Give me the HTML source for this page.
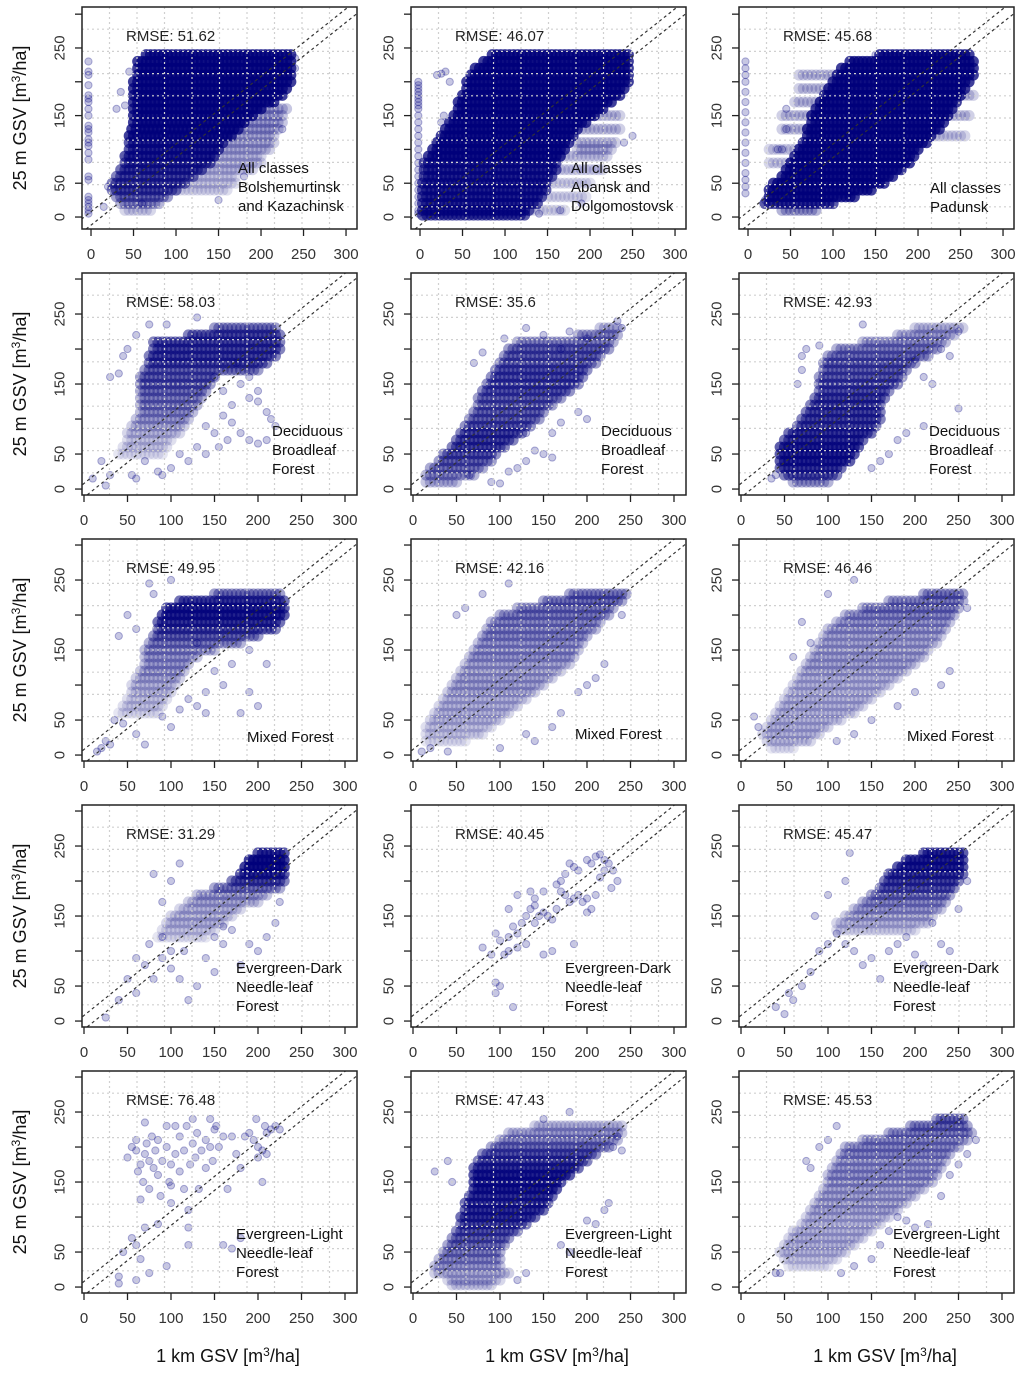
<!DOCTYPE html>
<html><head><meta charset="utf-8"><style>
body{margin:0;background:#fff;}
svg{display:block;font-family:"Liberation Sans",sans-serif;}
</style></head><body>
<svg id="chart" width="1024" height="1378" viewBox="0 0 1024 1378"></svg>
<script>
const colLefts=[82,411,739];
const rowTops=[7,273,539,805,1071];
const xTicks=[0,50,100,150,200,250,300];
const yTicks=[0,50,100,150,200,250,300];
const yTickLabels=["0","50","","150","","250",""];
const rmseValues=["51.62","46.07","45.68","58.03","35.6","42.93","49.95","42.16","46.46","31.29","40.45","45.47","76.48","47.43","45.53"];
const classLabels=[
["All classes","Bolshemurtinsk","and Kazachinsk"],["All classes","Abansk and","Dolgomostovsk"],["All classes","Padunsk"],
["Deciduous","Broadleaf","Forest"],["Deciduous","Broadleaf","Forest"],["Deciduous","Broadleaf","Forest"],
["Mixed Forest"],["Mixed Forest"],["Mixed Forest"],
["Evergreen-Dark","Needle-leaf","Forest"],["Evergreen-Dark","Needle-leaf","Forest"],["Evergreen-Dark","Needle-leaf","Forest"],
["Evergreen-Light","Needle-leaf","Forest"],["Evergreen-Light","Needle-leaf","Forest"],["Evergreen-Light","Needle-leaf","Forest"]];
// density spans: [y, x0, x1, density]
const spans1=[[240,65,235,.9],[230,55,238,.9],[220,55,238,.9],[210,55,235,.9],[200,50,235,.9],[190,50,230,.9],[180,50,225,.9],[170,50,215,.9],[160,50,200,.9],[150,50,190,.9],[140,50,180,.85],[130,48,175,.85],[120,45,165,.85],[110,45,155,.8],[100,45,150,.8],[90,40,145,.8],[80,40,140,.75],[70,35,130,.75],[60,30,120,.7],[50,25,110,.7],[40,25,100,.7],[30,30,90,.6],[20,35,80,.5],[10,40,70,.3],[160,200,230,.4],[150,190,225,.4],[140,180,225,.4],[130,175,220,.4],[120,165,215,.35],[110,155,215,.35],[100,150,210,.35],[90,145,200,.3],[80,140,200,.3],[70,130,190,.3],[60,120,170,.25],[50,110,170,.25],[40,100,160,.25]];
const points1=[[-3,5],[-3,10],[-3,15],[-3,20],[-3,25],[-3,30],[-3,55],[-3,60],[-3,85],[-3,95],[-3,105],[-3,110],[-3,115],[-3,125],[-3,130],[-3,135],[-3,150],[-3,160],[-3,170],[-3,175],[-3,180],[-3,195],[-3,210],[-3,215],[-3,230],[35,185],[40,165],[45,215],[30,160],[60,20],[15,15],[20,45],[150,25],[180,60],[225,130],[240,220],[240,235]];
const spans2=[[240,85,245,.9],[230,75,248,.9],[220,65,248,.9],[210,60,248,.9],[200,55,245,.9],[190,55,240,.9],[180,50,235,.9],[170,45,225,.9],[160,45,215,.9],[150,40,205,.9],[140,35,195,.9],[130,30,185,.85],[120,25,180,.85],[110,20,175,.85],[100,15,170,.85],[90,10,165,.85],[80,5,160,.8],[70,5,160,.8],[60,5,155,.8],[50,3,150,.8],[40,3,150,.8],[30,3,145,.8],[20,3,140,.8],[10,3,130,.8],[3,3,125,.8],[150,190,235,.35],[130,190,235,.35],[110,185,230,.35],[100,185,225,.35],[90,165,220,.3],[70,165,215,.3],[50,150,200,.25],[30,150,195,.25],[10,130,170,.25]];
const points2=[[-2,200],[-2,195],[-2,190],[-2,185],[-2,180],[-2,175],[-2,170],[-2,165],[-2,160],[-2,150],[-2,140],[-2,130],[-2,120],[-2,110],[-2,100],[-2,90],[-2,80],[-2,70],[-2,60],[-2,50],[-2,40],[-2,30],[-2,20],[-2,10],[-2,5],[20,210],[25,212],[30,215],[35,200],[28,150],[25,140],[30,110],[140,5],[165,10],[240,110],[250,120],[190,20]];
const spans3=[[240,155,260,.9],[230,120,265,.9],[220,110,268,.9],[210,105,268,.9],[200,100,262,.9],[190,95,255,.85],[180,90,250,.85],[170,85,245,.85],[160,80,240,.85],[150,75,235,.85],[140,75,230,.85],[130,70,225,.85],[120,70,215,.85],[110,65,210,.85],[100,60,200,.85],[90,55,195,.85],[80,50,190,.85],[70,45,180,.85],[60,40,170,.85],[50,30,160,.85],[40,25,145,.85],[30,25,125,.85],[20,20,100,.8],[10,40,80,.5],[210,60,100,.35],[190,60,95,.35],[170,55,90,.35],[150,40,75,.35],[130,40,70,.35],[100,25,60,.3],[80,25,50,.3],[180,250,265,.35],[150,230,262,.35],[120,215,255,.3]];
const points3=[[-3,230],[-3,220],[-3,210],[-3,200],[-3,185],[-3,170],[-3,155],[-3,140],[-3,125],[-3,110],[-3,95],[-3,80],[-3,65],[-3,55],[-3,45],[-3,35],[45,160],[45,130],[40,100],[35,100],[20,25],[150,240]];
const spans4=[[230,150,220,.6],[220,120,225,.7],[210,80,225,.7],[200,80,225,.7],[190,75,220,.7],[180,75,210,.7],[170,70,200,.6],[160,65,150,.6],[150,65,145,.6],[140,65,140,.55],[130,65,135,.5],[120,65,130,.5],[110,65,125,.45],[100,60,120,.4],[90,55,115,.35],[80,50,110,.3],[70,50,100,.25],[60,45,95,.25],[50,40,90,.2]];
const points4=[[10,15],[20,40],[25,5],[30,20],[30,160],[40,165],[45,190],[50,200],[60,220],[75,235],[95,235],[130,245],[150,160],[160,140],[170,120],[180,150],[190,130],[200,140],[210,110],[215,100],[220,90],[165,70],[180,80],[190,70],[200,65],[210,70],[170,95],[160,105],[150,80],[140,90],[130,60],[120,40],[110,50],[100,30],[90,20],[85,25],[70,40],[60,15],[55,20],[140,50],[155,60],[200,125],[190,160],[175,180]];
const spans5=[[230,215,235,.4],[220,190,235,.5],[210,120,230,.5],[200,110,225,.6],[190,105,215,.6],[180,100,210,.6],[170,95,200,.65],[160,90,195,.65],[150,85,190,.65],[140,80,180,.65],[130,75,170,.6],[120,75,160,.6],[110,70,150,.6],[100,65,145,.6],[90,60,135,.65],[80,55,125,.7],[70,50,115,.7],[60,45,105,.7],[50,35,95,.65],[40,30,90,.6],[30,20,80,.55],[20,15,70,.5],[10,15,50,.4]];
const points5=[[65,20],[90,10],[100,8],[110,25],[120,30],[130,40],[140,55],[150,50],[160,45],[70,180],[80,195],[105,215],[130,230],[150,220],[170,200],[180,225],[200,215],[240,230],[235,240],[200,100],[190,110],[160,80],[170,95],[130,80]];
const spans6=[[230,200,255,.35],[220,180,245,.4],[210,140,235,.45],[200,110,225,.5],[190,100,215,.55],[180,95,200,.6],[170,95,190,.6],[160,90,185,.6],[150,90,180,.65],[140,90,170,.65],[130,85,165,.7],[120,80,160,.7],[110,75,160,.7],[100,70,160,.7],[90,65,155,.7],[80,55,150,.75],[70,50,140,.75],[60,45,135,.8],[50,45,130,.8],[40,45,125,.8],[30,45,115,.75],[20,50,110,.7],[10,60,100,.5]];
const points6=[[35,15],[40,20],[65,150],[70,170],[70,190],[75,200],[90,205],[140,235],[250,115],[210,90],[190,80],[180,70],[160,40],[170,50],[150,30],[200,185],[230,200],[250,225],[240,190],[210,160],[220,150]];
const spans7=[[230,150,225,.6],[220,110,230,.75],[210,95,230,.8],[200,90,230,.8],[190,85,225,.75],[180,85,220,.7],[170,80,200,.6],[160,75,180,.5],[150,70,150,.45],[140,70,130,.4],[130,70,120,.4],[120,65,115,.4],[110,60,110,.35],[100,55,105,.3],[90,55,100,.3],[80,50,95,.25],[70,45,90,.25],[60,40,85,.2]];
const points7=[[15,5],[20,10],[25,20],[30,15],[35,50],[45,45],[60,30],[70,15],[90,55],[100,40],[110,65],[120,80],[130,70],[140,90],[150,120],[160,100],[170,130],[180,60],[190,90],[200,70],[140,60],[80,230],[75,245],[100,250],[130,160],[60,180],[50,200],[40,170],[210,130],[190,150]];
const spans8=[[230,180,245,.55],[220,150,240,.55],[210,120,230,.5],[200,100,225,.5],[190,90,215,.45],[180,85,210,.45],[170,80,200,.45],[160,75,195,.4],[150,70,190,.4],[140,65,185,.4],[130,60,180,.35],[120,55,170,.35],[110,50,160,.35],[100,45,150,.35],[90,40,140,.35],[80,35,130,.3],[70,30,120,.3],[60,25,110,.3],[50,20,100,.3],[40,15,90,.25],[30,15,80,.25],[20,15,60,.2]];
const points8=[[10,5],[20,10],[40,5],[50,200],[60,210],[80,230],[110,245],[200,100],[210,110],[220,130],[190,90],[170,60],[160,40],[140,20],[130,30],[100,10],[240,200]];
const spans9=[[230,210,255,.55],[220,170,255,.5],[210,140,250,.5],[200,120,245,.45],[190,110,240,.4],[180,100,235,.4],[170,95,230,.35],[160,90,225,.35],[150,85,215,.35],[140,80,210,.35],[130,75,200,.35],[120,70,190,.35],[110,65,180,.3],[100,60,170,.3],[90,55,160,.3],[80,50,150,.3],[70,45,140,.3],[60,40,130,.3],[50,35,115,.3],[40,30,100,.3],[30,25,90,.3],[20,30,80,.3],[10,35,60,.2]];
const points9=[[20,40],[15,55],[80,160],[60,140],[70,190],[100,230],[130,250],[260,210],[240,120],[230,100],[200,90],[180,70],[150,50],[130,30],[110,20]];
const spans10=[[240,200,230,.8],[230,190,232,.85],[220,185,232,.85],[210,180,232,.8],[200,170,230,.7],[190,150,225,.55],[180,130,210,.4],[170,120,200,.35],[160,110,180,.3],[150,100,170,.3],[140,95,160,.3],[130,90,150,.25],[120,85,140,.2]];
const points10=[[90,90],[80,60],[70,80],[60,90],[75,110],[90,120],[100,75],[110,60],[120,30],[130,50],[140,90],[150,70],[160,110],[170,130],[180,80],[190,110],[200,100],[210,120],[220,140],[225,170],[25,5],[40,30],[50,60],[80,210],[100,200],[110,225],[60,40],[90,170],[100,100],[115,100],[150,120],[160,135]];
const spans11=[];
const points11=[[80,105],[105,95],[110,120],[115,135],[120,125],[130,150],[125,140],[135,160],[140,175],[150,185],[155,150],[160,145],[165,195],[170,200],[175,210],[180,225],[185,220],[190,215],[200,230],[205,225],[210,235],[215,238],[220,230],[225,225],[220,215],[215,205],[230,215],[235,200],[228,190],[210,180],[200,175],[195,170],[190,180],[185,175],[180,170],[175,180],[170,185],[165,160],[150,155],[145,150],[140,165],[130,110],[120,105],[110,100],[100,115],[95,125],[90,95],[150,95],[160,100],[185,110],[200,155],[205,160],[140,140],[95,40],[100,50],[95,55],[115,20],[135,185],[120,180],[110,160]];
const spans12=[[240,210,255,.8],[230,190,258,.8],[220,180,258,.8],[210,170,255,.75],[200,165,250,.7],[190,160,245,.65],[180,150,240,.55],[170,140,235,.45],[160,130,230,.4],[150,120,220,.35],[140,110,215,.3],[130,110,200,.25]];
const points12=[[40,20],[50,10],[60,30],[70,50],[80,70],[90,100],[100,110],[110,125],[100,180],[120,200],[140,80],[150,90],[160,60],[170,100],[180,110],[190,120],[200,95],[210,80],[220,140],[230,110],[240,100],[250,160],[260,200],[55,40],[85,150],[120,110],[130,100],[125,240]];
const spans13=[];
const points13=[[40,5],[40,15],[45,50],[50,185],[55,200],[60,195],[60,210],[62,165],[65,175],[65,125],[68,150],[70,190],[72,205],[75,180],[75,140],[78,215],[80,170],[82,195],[85,210],[85,160],[88,130],[90,180],[95,200],[95,230],[98,150],[100,175],[100,120],[105,190],[105,230],[110,215],[110,165],[115,195],[115,140],[118,230],[120,110],[122,175],[125,205],[128,185],[130,220],[132,140],[135,195],[140,210],[140,170],[145,240],[145,200],[148,180],[150,225],[152,230],[155,200],[160,215],[165,140],[170,215],[175,190],[180,170],[185,215],[190,220],[195,210],[198,240],[200,200],[205,150],[208,230],[210,220],[215,225],[220,230],[225,225],[205,195],[210,190],[60,60],[55,70],[65,40],[70,85],[85,90],[95,30],[75,20],[60,10],[120,85],[160,60],[170,55],[180,70],[200,185],[120,60],[100,145],[125,240],[70,235]];
const spans14=[[230,140,240,.35],[220,110,240,.4],[210,100,235,.45],[200,90,225,.55],[190,80,210,.65],[180,75,200,.7],[170,70,190,.75],[160,70,180,.8],[150,70,170,.8],[140,70,165,.8],[130,65,160,.75],[120,60,155,.75],[110,60,150,.75],[100,55,140,.75],[90,55,130,.7],[80,50,120,.65],[70,45,110,.6],[60,40,105,.55],[50,35,100,.5],[40,30,100,.45],[30,25,100,.4],[20,25,110,.35],[10,40,100,.3],[3,45,90,.3]];
const points14=[[25,165],[40,180],[45,150],[170,60],[180,50],[200,95],[210,90],[220,110],[225,120],[230,200],[240,195],[235,215],[150,240],[180,250],[120,10],[130,20]];
const spans15=[[240,225,255,.6],[230,195,260,.55],[220,170,265,.5],[210,140,260,.45],[200,120,250,.45],[190,115,240,.45],[180,110,235,.4],[170,105,230,.4],[160,100,225,.4],[150,100,220,.4],[140,95,210,.35],[130,90,200,.35],[120,85,190,.35],[110,80,180,.35],[100,75,170,.3],[90,70,160,.3],[80,60,150,.3],[70,55,140,.3],[60,50,130,.3],[50,45,120,.3],[40,50,110,.25],[30,55,100,.2]];
const points15=[[40,20],[45,20],[75,180],[80,170],[90,200],[100,210],[110,230],[270,210],[260,190],[250,175],[240,160],[230,130],[215,90],[200,85],[190,95],[180,100],[170,80],[160,60],[150,40],[130,30],[115,20]];
const allSpans=[spans1,spans2,spans3,spans4,spans5,spans6,spans7,spans8,spans9,spans10,spans11,spans12,spans13,spans14,spans15];
const allPoints=[points1,points2,points3,points4,points5,points6,points7,points8,points9,points10,points11,points12,points13,points14,points15];
const refOffsets=[8,-12];

const NS="http://www.w3.org/2000/svg";
const svg=document.getElementById('chart');
function mk(tag,attrs,parent,text){const e=document.createElementNS(NS,tag);for(const k in attrs)e.setAttribute(k,attrs[k]);if(text!==undefined)e.textContent=text;(parent||svg).appendChild(e);return e;}
const BW=275,BH=222;
const defs=mk('defs',{});
for(let i=0;i<15;i++){
  const r=Math.floor(i/3),c=i%3;
  const L=colLefts[c],T=rowTops[r],B=T+BH,R=L+BW;
  const xmin=r===0?-10.6:-2.3, xmax=r===0?312.9:313.8;
  const ymin=r===0?-17.7:-8.5, ymax=r===0?310.6:308.6;
  const sx=v=>L+(v-xmin)/(xmax-xmin)*BW;
  const sy=v=>B-(v-ymin)/(ymax-ymin)*BH;
  const g=mk('g',{});
  
  
  const cp=mk('clipPath',{id:'cp'+i},defs);
  mk('rect',{x:L,y:T,width:BW,height:BH},cp);
  const marks=mk('g',{'clip-path':'url(#cp'+i+')'},g);
  
  
  for(const s of allSpans[i]){
    const dd=Math.min(0.97,s[3]*1.15);
    const a=1-Math.pow(1-dd,1/2.5);
    for(let x=s[1];x<=s[2];x+=5){
      const d=mk('circle',{cx:sx(x),cy:sy(s[0]),r:5.6,fill:'#00007a','fill-opacity':a.toFixed(3)},marks);
      
      
    }
  }
  for(const p of allPoints[i]){
    const d=mk('circle',{cx:sx(p[0]),cy:sy(p[1]),r:3.6,fill:'#000080','fill-opacity':0.22,stroke:'#000080','stroke-opacity':0.3,'stroke-width':1},marks);
    
    
  }
  for(let k=1;k<10;k++){
    const gl=mk('line',{x1:L+k*BW/10,x2:L+k*BW/10,y1:T,y2:B,stroke:'#d0d0d0','stroke-width':1.2,'stroke-dasharray':'2,3'},g);
    
    
    const gh=mk('line',{x1:L,x2:R,y1:T+k*BH/10,y2:T+k*BH/10,stroke:'#d0d0d0','stroke-width':1.2,'stroke-dasharray':'2,3'},g);
    
    
  }
  const rl=mk('g',{'clip-path':'url(#cp'+i+')'},g);
  for(const o of refOffsets){
    const ln=mk('line',{x1:sx(-50),y1:sy(-50+o),x2:sx(400),y2:sy(400+o),stroke:'#333','stroke-width':1.2,'stroke-dasharray':'3,3'},rl);
    
    
  }
  const box=mk('rect',{x:L,y:T,width:BW,height:BH,fill:'none',stroke:'#222','stroke-width':1.5},g);
  
  
  for(const t of xTicks){
    const tk=mk('line',{x1:sx(t),x2:sx(t),y1:B,y2:B+7,stroke:'#222','stroke-width':1.3},g);
    
    
    const tl=mk('text',{x:sx(t),y:B+30,'text-anchor':'middle','font-size':15,fill:'#333'},g,String(t));
    
    
  }
  yTicks.forEach((t,j)=>{
    const tk=mk('line',{x1:L-7,x2:L,y1:sy(t),y2:sy(t),stroke:'#222','stroke-width':1.3},g);
    
    
    if(yTickLabels[j]){
      const ty=sy(t);
      const tl=mk('text',{x:L-22,y:ty,'text-anchor':'middle','font-size':15,fill:'#333',transform:'rotate(-90 '+(L-22)+' '+ty+')','dominant-baseline':'central'},g,yTickLabels[j]);
      
      
    }
  });
  const rm=mk('text',{x:L+44,y:T+34,'font-size':15,fill:'#222'},g,'RMSE:  '+rmseValues[i]);
  
  
  const lines=classLabels[i];
  let lx,ly;
  if(r===0){lx=[L+156,L+160,L+191][c];ly=c===2?T+186:T+166;}
  else if(r===1){lx=L+190;ly=T+163;}
  else if(r===2){lx=[L+165,L+164,L+168][c];ly=[T+203,T+200,T+202][c];}
  else {lx=L+154;ly=T+168;}
  lines.forEach((s,k)=>{
    const tx=mk('text',{x:lx,y:ly+k*19,'font-size':15,fill:'#111'},g,s);
    
    
  });
}
for(let r=0;r<5;r++){
  const cy=rowTops[r]+111;
  const t=mk('text',{x:26,y:cy,'text-anchor':'middle','font-size':18,fill:'#111',transform:'rotate(-90 26 '+cy+')'},svg);
  
  
  t.innerHTML='25 m GSV [m<tspan font-size="12" dy="-6">3</tspan><tspan dy="6">/ha]</tspan>';
}
for(let c=0;c<3;c++){
  const cx=colLefts[c]+146;
  const t=mk('text',{x:cx,y:1362,'text-anchor':'middle','font-size':18,fill:'#111'},svg);
  
  
  t.innerHTML='1 km GSV [m<tspan font-size="12" dy="-6">3</tspan><tspan dy="6">/ha]</tspan>';
}
</script>
</body></html>
